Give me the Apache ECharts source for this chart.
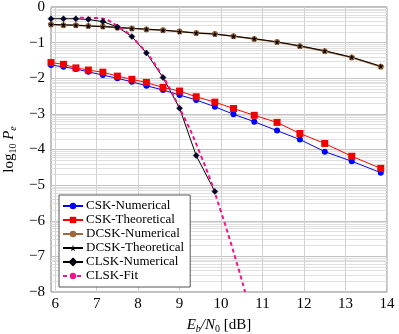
<!DOCTYPE html>
<html>
<head>
<meta charset="utf-8">
<script src="https://cdn.jsdelivr.net/npm/echarts@6/dist/echarts.min.js"></script>
<style>
  html, body { margin: 0; padding: 0; background: #fff; }
  #chart { width: 399px; height: 334px; }
</style>
</head>
<body>
<div id="chart"></div>
<script>
// Eb/N0 points (dB)
var ebno = [5.9, 6.2, 6.5, 6.8, 7.15, 7.5, 7.85, 8.2, 8.6, 9.0, 9.4, 9.85, 10.3, 10.8, 11.35, 11.9, 12.5, 13.15, 13.85];
// log10 Pe
var cskNum = [-1.63, -1.68, -1.74, -1.82, -1.91, -2.00, -2.10, -2.21, -2.33, -2.47, -2.61, -2.80, -3.01, -3.22, -3.47, -3.72, -4.06, -4.33, -4.65];
var cskTheo = [-1.56, -1.61, -1.71, -1.77, -1.83, -1.94, -2.03, -2.12, -2.26, -2.36, -2.52, -2.67, -2.85, -3.04, -3.24, -3.55, -3.83, -4.19, -4.53];
var dcskNum = [-0.49, -0.51, -0.51, -0.53, -0.55, -0.58, -0.60, -0.63, -0.65, -0.69, -0.73, -0.76, -0.82, -0.90, -0.98, -1.10, -1.24, -1.42, -1.68];
var dcskTheo = [-0.49, -0.50, -0.51, -0.53, -0.55, -0.57, -0.60, -0.62, -0.65, -0.69, -0.73, -0.76, -0.82, -0.89, -0.98, -1.09, -1.23, -1.41, -1.66];
var clskNum = [-0.33, -0.33, -0.33, -0.35, -0.41, -0.56, -0.83, -1.29, -1.98, -2.84, -4.17, -5.18];
var fitX = [6.6, 7.0, 7.5, 8.0, 8.5, 9.0, 9.5, 10.0, 10.58];
var fitY = [-0.30, -0.31, -0.53, -1.02, -1.78, -2.84, -4.13, -5.75, -8.0];
var xTicks = [6, 7, 8, 9, 10, 11, 12, 13, 14];

function pairs(xv, yv) {
  return yv.map(function (y, i) { return [xv[i], y]; });
}

// log-style minor grid lines inside each decade
var minorLines = [];
for (var d = -8; d < 0; d++) {
  for (var k = 2; k <= 9; k++) {
    minorLines.push({ yAxis: d + Math.log10(k) });
  }
}
var vLines = xTicks.map(function (v) { return { xAxis: v }; });

var font = "'Liberation Serif', 'DejaVu Serif', serif";
var star = 'path://M50,0 L61,35 L98,35 L68,57 L79,91 L50,70 L21,91 L32,57 L2,35 L39,35 Z';

var myChart = echarts.init(document.getElementById('chart'));
var option = {
  animation: false,
  grid: {
    left: 51,
    right: 12,
    top: 7,
    bottom: 42,
    outerBoundsMode: 'none',
    containLabel: false,
    show: true,
    borderColor: '#808080',
    borderWidth: 1
  },
  legend: {
    orient: 'vertical',
    left: 59,
    top: 195,
    padding: [4, 6, 4, 3],
    itemGap: 0,
    itemWidth: 20,
    itemHeight: 8,
    backgroundColor: '#fff',
    borderColor: '#555',
    borderWidth: 1,
    borderRadius: 0,
    z: 10,
    textStyle: { fontFamily: font, fontSize: 13, lineHeight: 14, color: '#000', padding: [0, 0, 0, -2] },
    data: ['CSK-Numerical', 'CSK-Theoretical', 'DCSK-Numerical', 'DCSK-Theoretical', 'CLSK-Numerical', 'CLSK-Fit']
  },
  xAxis: {
    type: 'value',
    min: 5.9,
    max: 14,
    axisLine: { show: false },
    axisTick: { show: false, customValues: xTicks },
    splitLine: { show: false },
    axisLabel: {
      customValues: xTicks,
      fontFamily: font, fontSize: 15, color: '#000', margin: 5
    },
    name: '{i|E}{s|b}{i|/N}{r0|0}{r| [dB]}',
    nameLocation: 'middle',
    nameGap: 24,
    nameTextStyle: {
      rich: {
        i: { fontFamily: font, fontStyle: 'italic', fontSize: 15, color: '#000', lineHeight: 18 },
        s: { fontFamily: font, fontStyle: 'italic', fontSize: 10, color: '#000', lineHeight: 10, verticalAlign: 'bottom' },
        r0: { fontFamily: font, fontSize: 10, color: '#000', lineHeight: 10, verticalAlign: 'bottom' },
        r: { fontFamily: font, fontSize: 15, color: '#000', lineHeight: 18 }
      }
    }
  },
  yAxis: {
    type: 'value',
    min: -8,
    max: 0,
    interval: 1,
    axisLine: { show: false },
    axisTick: { show: false },
    splitLine: { show: true, lineStyle: { color: '#c4c4c4', width: 1 } },
    axisLabel: {
      fontFamily: font, fontSize: 15, color: '#000', margin: 6,
      formatter: function (v) { return String(v).replace('-', '\u2212'); }
    },
    name: '{r|log}{r0|10}{i| P}{s|e}',
    nameLocation: 'middle',
    nameRotate: 90,
    nameGap: 33,
    nameTextStyle: {
      rich: {
        i: { fontFamily: font, fontStyle: 'italic', fontSize: 15, color: '#000', lineHeight: 18 },
        s: { fontFamily: font, fontStyle: 'italic', fontSize: 10, color: '#000', lineHeight: 10, verticalAlign: 'bottom' },
        r0: { fontFamily: font, fontSize: 10, color: '#000', lineHeight: 10, verticalAlign: 'bottom' },
        r: { fontFamily: font, fontSize: 15, color: '#000', lineHeight: 18 }
      }
    }
  },
  series: [
    {
      name: 'grid-minor',
      type: 'line',
      data: [],
      z: 0,
      silent: true,
      markLine: {
        z: 0,
        silent: true,
        symbol: ['none', 'none'],
        label: { show: false },
        emphasis: { disabled: true },
        lineStyle: { color: '#e0e0e0', type: 'solid', width: 1 },
        data: minorLines
      }
    },
    {
      name: 'grid-x',
      type: 'line',
      data: [],
      z: 0,
      silent: true,
      markLine: {
        z: 0,
        silent: true,
        symbol: ['none', 'none'],
        label: { show: false },
        emphasis: { disabled: true },
        lineStyle: { color: '#d2d2d2', type: 'solid', width: 1 },
        data: vLines
      }
    },
    {
      name: 'CSK-Numerical',
      type: 'line',
      data: pairs(ebno, cskNum),
      clip: false,
      color: '#0000ff',
      symbol: 'circle',
      symbolSize: 6,
      lineStyle: { width: 1, color: '#0000ff' },
      itemStyle: { color: '#0000ff' }
    },
    {
      name: 'CSK-Theoretical',
      type: 'line',
      data: pairs(ebno, cskTheo),
      clip: false,
      color: '#ff0000',
      symbol: 'rect',
      symbolSize: 7,
      lineStyle: { width: 1, color: '#ff0000' },
      itemStyle: { color: '#ee0000' }
    },
    {
      name: 'DCSK-Numerical',
      type: 'line',
      data: pairs(ebno, dcskNum),
      clip: false,
      color: '#a0683a',
      symbol: 'circle',
      symbolSize: 6,
      lineStyle: { width: 1.5, color: '#a0683a' },
      itemStyle: { color: '#a0683a' }
    },
    {
      name: 'DCSK-Theoretical',
      type: 'line',
      data: pairs(ebno, dcskTheo),
      clip: false,
      color: '#000',
      symbol: star,
      symbolSize: 6,
      lineStyle: { width: 1, color: '#000' },
      itemStyle: { color: '#000' }
    },
    {
      name: 'CLSK-Numerical',
      type: 'line',
      data: pairs(ebno, clskNum),
      clip: false,
      color: '#000',
      symbol: 'diamond',
      symbolSize: 6,
      lineStyle: { width: 1, color: '#000' },
      itemStyle: { color: '#000033', borderColor: '#000', borderWidth: 0.5 }
    },
    {
      name: 'CLSK-Fit',
      type: 'line',
      data: pairs(fitX, fitY),
      smooth: true,
      showSymbol: false,
      symbol: 'none',
      color: '#f0148c',
      lineStyle: { width: 2, color: '#f0148c', type: [4, 3] },
      z: 3
    }
  ]
};
myChart.setOption(option);
</script>
</body>
</html>
